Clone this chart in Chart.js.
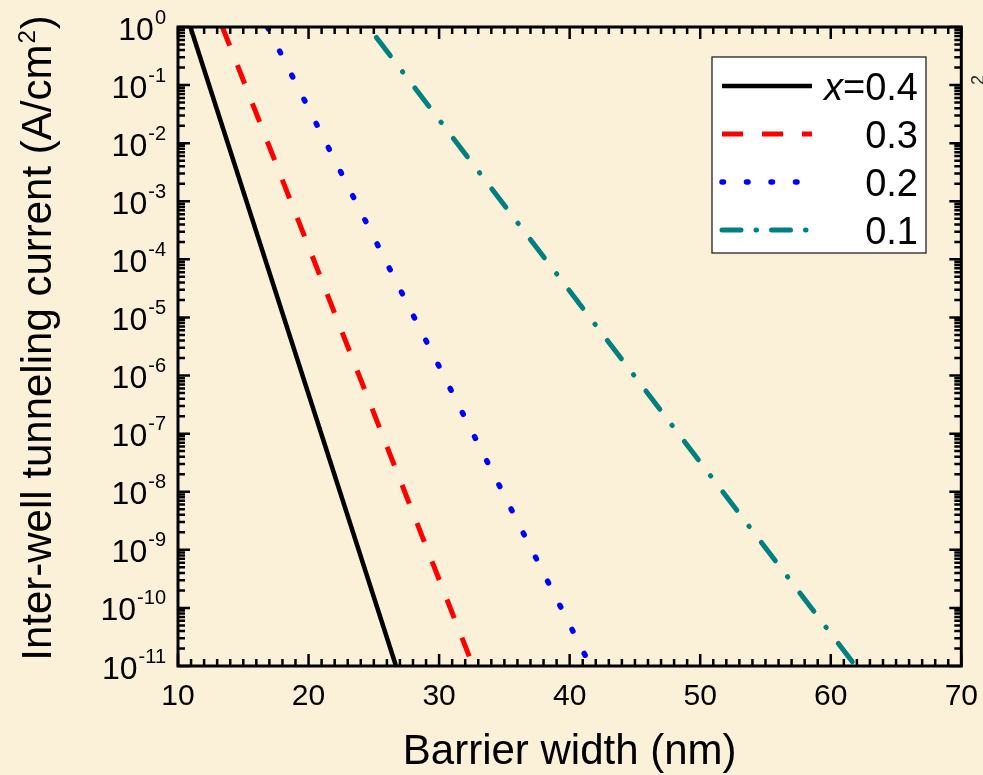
<!DOCTYPE html>
<html>
<head>
<meta charset="utf-8">
<script src="https://cdn.jsdelivr.net/npm/chart.js@4.4.1/dist/chart.umd.min.js"></script>
<style>
  html, body { margin: 0; padding: 0; background: #FBF0D8; }
  #wrap { width: 983px; height: 775px; position: relative; }
</style>
</head>
<body>
<div id="wrap"><canvas id="c"></canvas></div>
<script>
// Barrier width (nm) at the two ends of each log-linear curve
const barrierX04 = [10.95, 26.7];
const barrierX03 = [13.4, 32.6];
const barrierX02 = [16.85, 41.6];
const barrierX01 = [25.2, 61.9];
// Inter-well tunneling current (A/cm^2) at those widths
const currentX04 = [1, 1e-11];
const currentX03 = [1, 1e-11];
const currentX02 = [1, 1e-11];
const currentX01 = [0.66, 1e-11];
// Legend texts (the first one gets an italic "x=" prefix)
const seriesLabels = ['0.4', '0.3', '0.2', '0.1'];
// Axis ticks
const xTickValues = [10, 20, 30, 40, 50, 60, 70];
const yExponents = [0, -1, -2, -3, -4, -5, -6, -7, -8, -9, -10, -11];

const FAMILY = '"Liberation Sans", Arial, Helvetica, sans-serif';

function toPoints(xs, ys) {
  return xs.map((v, i) => ({ x: v, y: ys[i] }));
}

// Inward ticks on all four sides, the box frame, y labels, y title and legend
const framePlugin = {
  id: 'frame',
  afterDatasetsDraw(chart) {
    const { ctx, chartArea: a, scales: { x, y } } = chart;
    ctx.save();

    // ticks
    ctx.strokeStyle = '#000';
    ctx.lineWidth = 2.5;
    ctx.lineCap = 'butt';
    ctx.beginPath();
    const xMin = xTickValues[0], xMax = xTickValues[xTickValues.length - 1];
    for (let v = xMin; v <= xMax; v++) {
      const px = x.getPixelForValue(v);
      const len = (v % 10 === 0) ? 12 : 7;
      ctx.moveTo(px, a.bottom); ctx.lineTo(px, a.bottom - len);
      ctx.moveTo(px, a.top); ctx.lineTo(px, a.top + len);
    }
    for (const e of yExponents) {
      for (let k = 1; k <= 9; k++) {
        const val = k * Math.pow(10, e);
        if (val > 1.0000001) break;
        const py = y.getPixelForValue(val);
        const len = (k === 1) ? 12 : 7;
        ctx.moveTo(a.left, py); ctx.lineTo(a.left + len, py);
        ctx.moveTo(a.right, py); ctx.lineTo(a.right - len, py);
      }
    }
    ctx.stroke();

    // frame
    ctx.lineWidth = 3;
    ctx.strokeRect(a.left, a.top, a.right - a.left, a.bottom - a.top);

    // y tick labels: 10 with a raised exponent
    ctx.fillStyle = '#000';
    ctx.textBaseline = 'alphabetic';
    ctx.textAlign = 'left';
    const baseFont = '32px ' + FAMILY;
    const expFont = '20px ' + FAMILY;
    for (const e of yExponents) {
      const py = y.getPixelForValue(Math.pow(10, e));
      const expText = String(e);
      ctx.font = expFont;
      const ew = ctx.measureText(expText).width;
      ctx.font = baseFont;
      const bw = ctx.measureText('10').width;
      const x0 = 165 - ew - bw;
      ctx.fillText('10', x0, py + 12.5);
      ctx.font = expFont;
      ctx.fillText(expText, x0 + bw + 1, py - 3.5);
    }

    // y axis title, rotated, with superscript 2
    ctx.save();
    ctx.translate(51, 339);
    ctx.rotate(-Math.PI / 2);
    const tFont = '42px ' + FAMILY;
    const sFont = '24px ' + FAMILY;
    const part1 = 'Inter-well tunneling current (A/cm';
    const part2 = '2';
    const part3 = ')';
    ctx.font = tFont;
    const w1 = ctx.measureText(part1).width;
    const w3 = ctx.measureText(part3).width;
    ctx.font = sFont;
    const w2 = ctx.measureText(part2).width;
    const total = w1 + w2 + w3;
    let cx = -total / 2;
    ctx.font = tFont;
    ctx.fillText(part1, cx, 0);
    cx += w1;
    ctx.font = sFont;
    ctx.fillText(part2, cx + 1, -16);
    cx += w2 + 2;
    ctx.font = tFont;
    ctx.fillText(part3, cx, 0);
    ctx.restore();

    // small superscript at the far right edge
    ctx.save();
    ctx.translate(984, 80);
    ctx.rotate(-Math.PI / 2);
    ctx.font = '18px ' + FAMILY;
    ctx.textAlign = 'center';
    ctx.fillStyle = '#222';
    ctx.fillText('2', 0, 0);
    ctx.restore();

    // legend
    const bx = 712, by = 57, bw2 = 214, bh = 196;
    ctx.fillStyle = '#FFFFFF';
    ctx.fillRect(bx, by, bw2, bh);
    ctx.lineWidth = 1.3;
    ctx.strokeStyle = '#222';
    ctx.strokeRect(bx, by, bw2, bh);
    chart.data.datasets.forEach((ds, i) => {
      const ry = 86 + i * 48;
      ctx.save();
      ctx.strokeStyle = ds.borderColor;
      ctx.lineWidth = ds.borderWidth;
      ctx.lineCap = ds.borderCapStyle || 'butt';
      ctx.setLineDash(ds.legendDash || ds.borderDash || []);
      ctx.beginPath();
      ctx.moveTo(722, ry);
      ctx.lineTo(812, ry);
      ctx.stroke();
      ctx.restore();

      ctx.fillStyle = '#000';
      ctx.textAlign = 'right';
      ctx.textBaseline = 'alphabetic';
      const legFont = '38px ' + FAMILY;
      ctx.font = legFont;
      if (i === 0) {
        const rest = '=' + seriesLabels[i];
        const rw = ctx.measureText(rest).width;
        ctx.fillText(rest, 918, ry + 13.5);
        ctx.font = 'italic ' + legFont;
        ctx.fillText('x', 918 - rw, ry + 13.5);
      } else {
        ctx.fillText(seriesLabels[i], 918, ry + 13.5);
      }
    });

    ctx.restore();
  }
};

new Chart(document.getElementById('c'), {
  type: 'line',
  data: {
    datasets: [
      {
        label: 'x=' + seriesLabels[0],
        data: toPoints(barrierX04, currentX04),
        borderColor: '#000000',
        borderWidth: 4.5,
        borderCapStyle: 'butt'
      },
      {
        label: seriesLabels[1],
        data: toPoints(barrierX03, currentX03),
        borderColor: '#FF0000',
        borderWidth: 5,
        borderCapStyle: 'butt',
        borderDash: [20, 21],
        legendDash: [21, 19]
      },
      {
        label: seriesLabels[2],
        data: toPoints(barrierX02, currentX02),
        borderColor: '#0000FF',
        borderWidth: 5.5,
        borderCapStyle: 'round',
        borderDash: [2, 25],
        legendDash: [1.5, 23]
      },
      {
        label: seriesLabels[3],
        data: toPoints(barrierX01, currentX01),
        borderColor: '#008080',
        borderWidth: 5,
        borderCapStyle: 'round',
        borderDash: [23, 20, 0.5, 20],
        legendDash: [19, 15, 0.5, 15]
      }
    ]
  },
  options: {
    responsive: true,
    maintainAspectRatio: false,
    animation: false,
    elements: { point: { radius: 0 }, line: { tension: 0 } },
    layout: { padding: { left: 0, top: 27, right: 21, bottom: 0 } },
    plugins: { legend: { display: false }, tooltip: { enabled: false } },
    scales: {
      x: {
        type: 'linear',
        position: 'bottom',
        min: xTickValues[0],
        max: xTickValues[xTickValues.length - 1],
        grid: { display: false },
        border: { display: false },
        afterBuildTicks(s) { s.ticks = xTickValues.map(v => ({ value: v })); },
        ticks: {
          color: '#000',
          font: { family: FAMILY, size: 30 },
          padding: 5,
          maxRotation: 0,
          autoSkip: false
        },
        title: {
          display: true,
          text: 'Barrier width (nm)',
          color: '#000',
          font: { family: FAMILY, size: 42 },
          padding: { top: 0, bottom: -3 }
        },
        afterFit(s) { s.height = 109; }
      },
      y: {
        type: 'logarithmic',
        min: 1e-11,
        max: 1,
        grid: { display: false },
        border: { display: false },
        ticks: { display: false },
        afterFit(s) { s.width = 178; }
      }
    }
  },
  plugins: [framePlugin]
});
</script>
</body>
</html>
